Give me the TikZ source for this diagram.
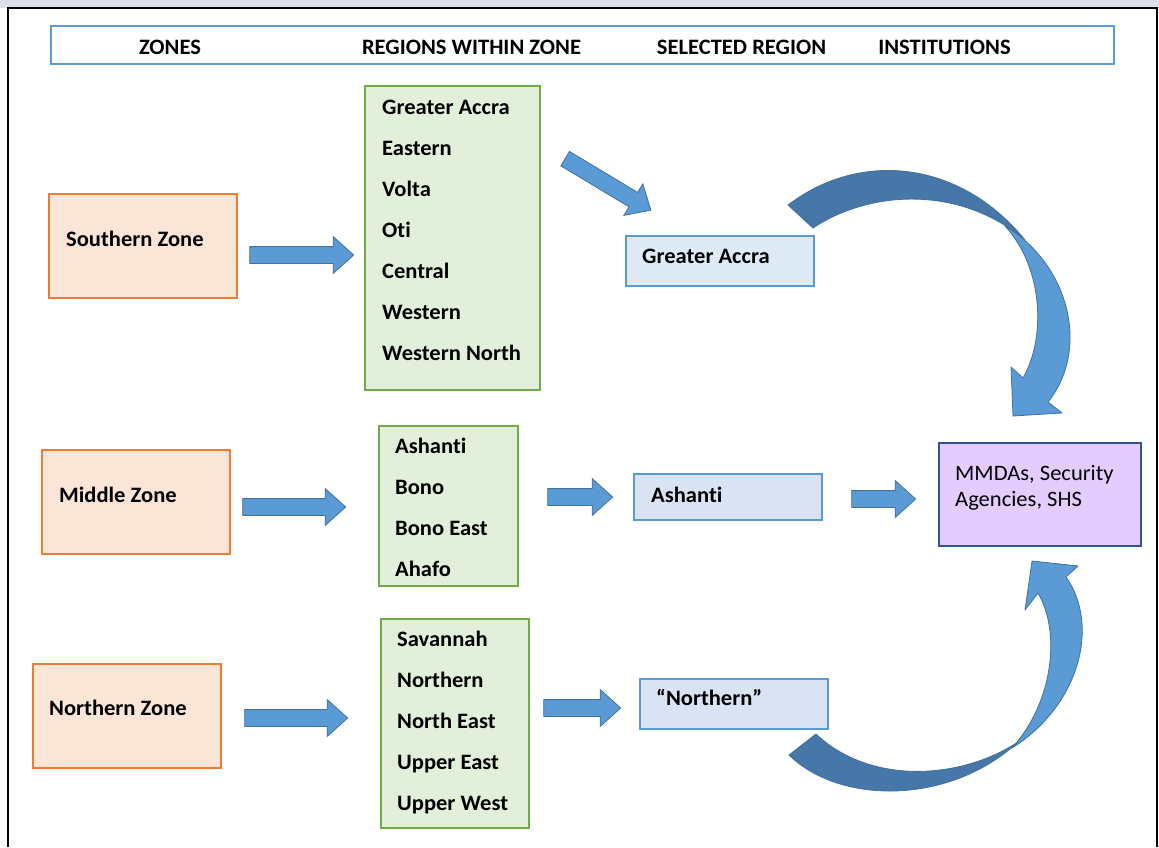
\documentclass[tikz,border=0pt]{standalone}
\usepackage{fontspec}
\setmainfont{Carlito}[FakeStretch=1.025, Ligatures=NoCommon]
\usetikzlibrary{positioning, shapes.arrows}
\definecolor{zone-line}{HTML}{ED7D31}
\definecolor{zone-fill}{HTML}{FBE5D6}
\definecolor{reg-line}{HTML}{70AD47}
\definecolor{reg-fill}{HTML}{E2EFDA}
\definecolor{sel-line}{HTML}{5B9BD5}
\definecolor{sel-fill}{HTML}{DAE3F3}
\definecolor{sel-fill2}{HTML}{DEEBF7}
\definecolor{inst-line}{HTML}{2F5597}
\definecolor{inst-fill}{HTML}{E4CCFF}
\definecolor{arr-fill}{HTML}{5B9BD5}
\definecolor{arr-line}{HTML}{41719C}
\definecolor{arr-dark}{HTML}{4677A8}
\definecolor{page-top}{HTML}{DCE0EA}

\begin{document}
\begin{tikzpicture}[x=1pt, y=-1pt,
    lbl/.style={font=\fontsize{22}{26}\selectfont\bfseries, inner sep=0, anchor=base west},
    box/.style 2 args={draw, line width=1.5pt, inner sep=0, minimum width=#1, minimum height=#2},
    zonebox/.style={box={188pt}{104pt}, draw=zone-line, fill=zone-fill},
    regbox/.style 2 args={box={#1}{#2}, draw=reg-line, fill=reg-fill},
    selbox/.style={box={188pt}{#1}, draw=sel-line, fill=sel-fill},
    blk/.style={shape=single arrow, draw=arr-line, fill=arr-fill, line width=0.8pt,
                inner xsep=0, inner ysep=8pt, minimum width=36pt, single arrow head extend=10pt,
                single arrow tip angle=84, minimum height=#1},
    curvearr/.style={draw=arr-line, line width=0.8pt, line join=round},
]
    \useasboundingbox (0,0) rectangle (1159,847);
    \fill[page-top] (0,0) rectangle (1159,8);
    \fill[white] (8,8) rectangle (1157,847);
    \draw[line width=2pt] (8,847) -- (8,8) -- (1157,8) -- (1157,847);

    % header
    \node[box={1063pt}{38pt}, draw=sel-line, fill=white] (head) at (582.5,45) {};
    \node[lbl, anchor=center] (h1) at (170,47) {ZONES};
    \node[lbl, anchor=center] (h2) at (471.5,47) {REGIONS WITHIN ZONE};
    \node[lbl, anchor=center] (h3) at (741.5,47) {SELECTED REGION};
    \node[lbl, anchor=center] (h4) at (944.5,47) {INSTITUTIONS};

    % zones
    \node[zonebox] (sz) at (143,246) {};
    \node[zonebox] (mz) at (136,502) {};
    \node[zonebox] (nz) at (127,716) {};
    \node[lbl] (sz-t) at (66,246) {Southern Zone};
    \node[lbl] (mz-t) at (59,502) {Middle Zone};
    \node[lbl] (nz-t) at (49,715) {Northern Zone};

    % regions within zone
    \node[regbox={175pt}{304pt}] (sr) at (452.5,238) {};
    \node[regbox={139pt}{160pt}] (mr) at (448.5,506) {};
    \node[regbox={148pt}{209pt}] (nr) at (455,723.5) {};
    \foreach \t [count=\i] in {Greater Accra, Eastern, Volta, Oti, Central, Western, Western North}
        \node[lbl] (sr-\i) at (382,73+41.1*\i) {\t};
    \foreach \t [count=\i] in {Ashanti, Bono, Bono East, Ahafo}
        \node[lbl] (mr-\i) at (395,412+41*\i) {\t};
    \foreach \t [count=\i] in {Savannah, Northern, North East, Upper East, Upper West}
        \node[lbl] (nr-\i) at (397,605+41*\i) {\t};

    % selected region
    \node[selbox=50pt, fill=sel-fill2] (ssel) at (720,261) {};
    \node[selbox=46pt] (msel) at (728,497) {};
    \node[selbox=50pt] (nsel) at (734,704) {};
    \node[lbl] (ssel-t) at (642,263) {Greater Accra};
    \node[lbl] (msel-t) at (651,502) {Ashanti};
    \node[lbl] (nsel-t) at (656,705) {“Northern”};

    % institutions
    \node[box={202pt}{103pt}, draw=inst-line, fill=inst-fill] (inst) at (1040,494.5) {};
    \node[lbl, font=\fontsize{22}{26}\selectfont] (inst-t1) at (955,480) {MMDAs, Security};
    \node[lbl, font=\fontsize{22}{26}\selectfont] (inst-t2) at (955,506) {Agencies, SHS};

    % block arrows
    \node[blk=104pt] (a1) at (297,255) {};
    \node[blk=103pt] (a2) at (289.5,507) {};
    \node[blk=103pt] (a3) at (291.5,718) {};
    \node[blk=100pt, rotate=-31] (a4) at (604,182) {};
    \node[blk=65pt] (a5) at (575.5,497) {};
    \node[blk=77pt] (a6) at (577.5,708) {};
    \node[blk=64pt] (a7) at (879,499) {};

    % curved arrows
    \path[curvearr, fill=arr-fill] (1005,226) .. controls (1070,265) and (1090,350) .. (1048,402)
        -- (1062,413) -- (1013,416) -- (1011,367) -- (1023,378)
        .. controls (1045,340) and (1045,270) .. (1005,226) -- cycle;
    \path[curvearr, fill=arr-dark] (788,205) .. controls (860,150) and (960,160) .. (1025,240)
        .. controls (960,185) and (870,190) .. (813,228) -- cycle;
    \path[curvearr, fill=arr-fill] (1012,748) .. controls (1080,705) and (1100,625) .. (1066,577)
        -- (1078,566) -- (1032,561) -- (1025,610) -- (1038,593)
        .. controls (1060,630) and (1055,700) .. (1012,748) -- cycle;
    \path[curvearr, fill=arr-dark] (789,755) .. controls (840,805) and (950,805) .. (1018,742)
        .. controls (960,780) and (870,785) .. (816,734) -- cycle;
\end{tikzpicture}
\end{document}
